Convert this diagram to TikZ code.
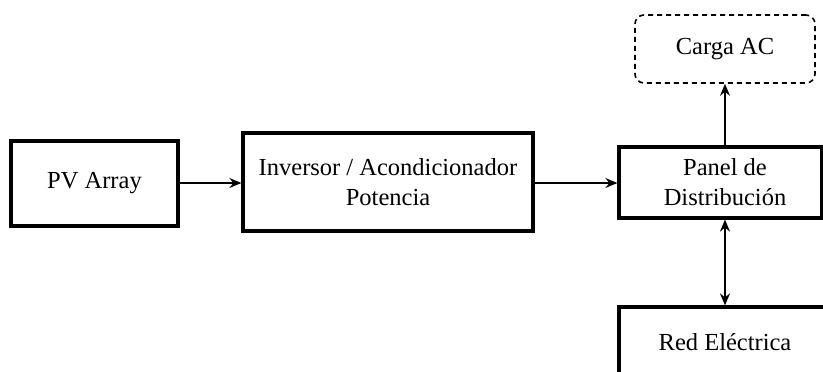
\documentclass[tikz,border=0pt]{standalone}
\usepackage{fontspec}
\setmainfont{Liberation Serif}
\usetikzlibrary{arrows.meta}
\begin{document}
\begin{tikzpicture}[x=1pt,y=-1pt,
  blk/.style={draw, line width=3.2pt, align=center, inner sep=0pt,
    font=\fontsize{24.5}{30}\selectfont},
  dsh/.style={draw, line width=1.6pt, dash pattern=on 5pt off 4pt, rounded corners=9pt,
    align=center, inner sep=0pt, font=\fontsize{24.5}{30}\selectfont},
  conn/.style={line width=1.5pt, -{Stealth[length=12pt,width=10pt]}},
  conn2/.style={line width=1.5pt, {Stealth[length=12pt,width=10pt]}-{Stealth[length=12pt,width=10pt]}}]
\clip (0,0) rectangle (823,372);
\fill[white] (0,0) rectangle (823,372);
\node[blk, minimum width=167pt, minimum height=85pt] (pv) at (94.5,183.5) {PV Array};
\node[blk, minimum width=290pt, minimum height=98pt] (inv) at (388,182) {Inversor / Acondicionador\\Potencia};
\node[blk, minimum width=203pt, minimum height=71pt] (pan) at (720.5,182.5) {\hspace*{9pt}Panel de\\\hspace*{9pt}Distribución};
\node[dsh, minimum width=180pt, minimum height=68pt] (carga) at (725,49) {Carga AC};
\node[blk, minimum width=212pt, minimum height=70pt] (red) at (725,342) {Red Eléctrica};
\draw[conn] (pv.east |- 0,183) -- (inv.west |- 0,183);
\draw[conn] (inv.east |- 0,183) -- (pan.west |- 0,183);
\draw[conn] (pan.north -| carga.south) -- (carga.south);
\draw[conn2] (pan.south -| red.north) -- (red.north);
\end{tikzpicture}
\end{document}
